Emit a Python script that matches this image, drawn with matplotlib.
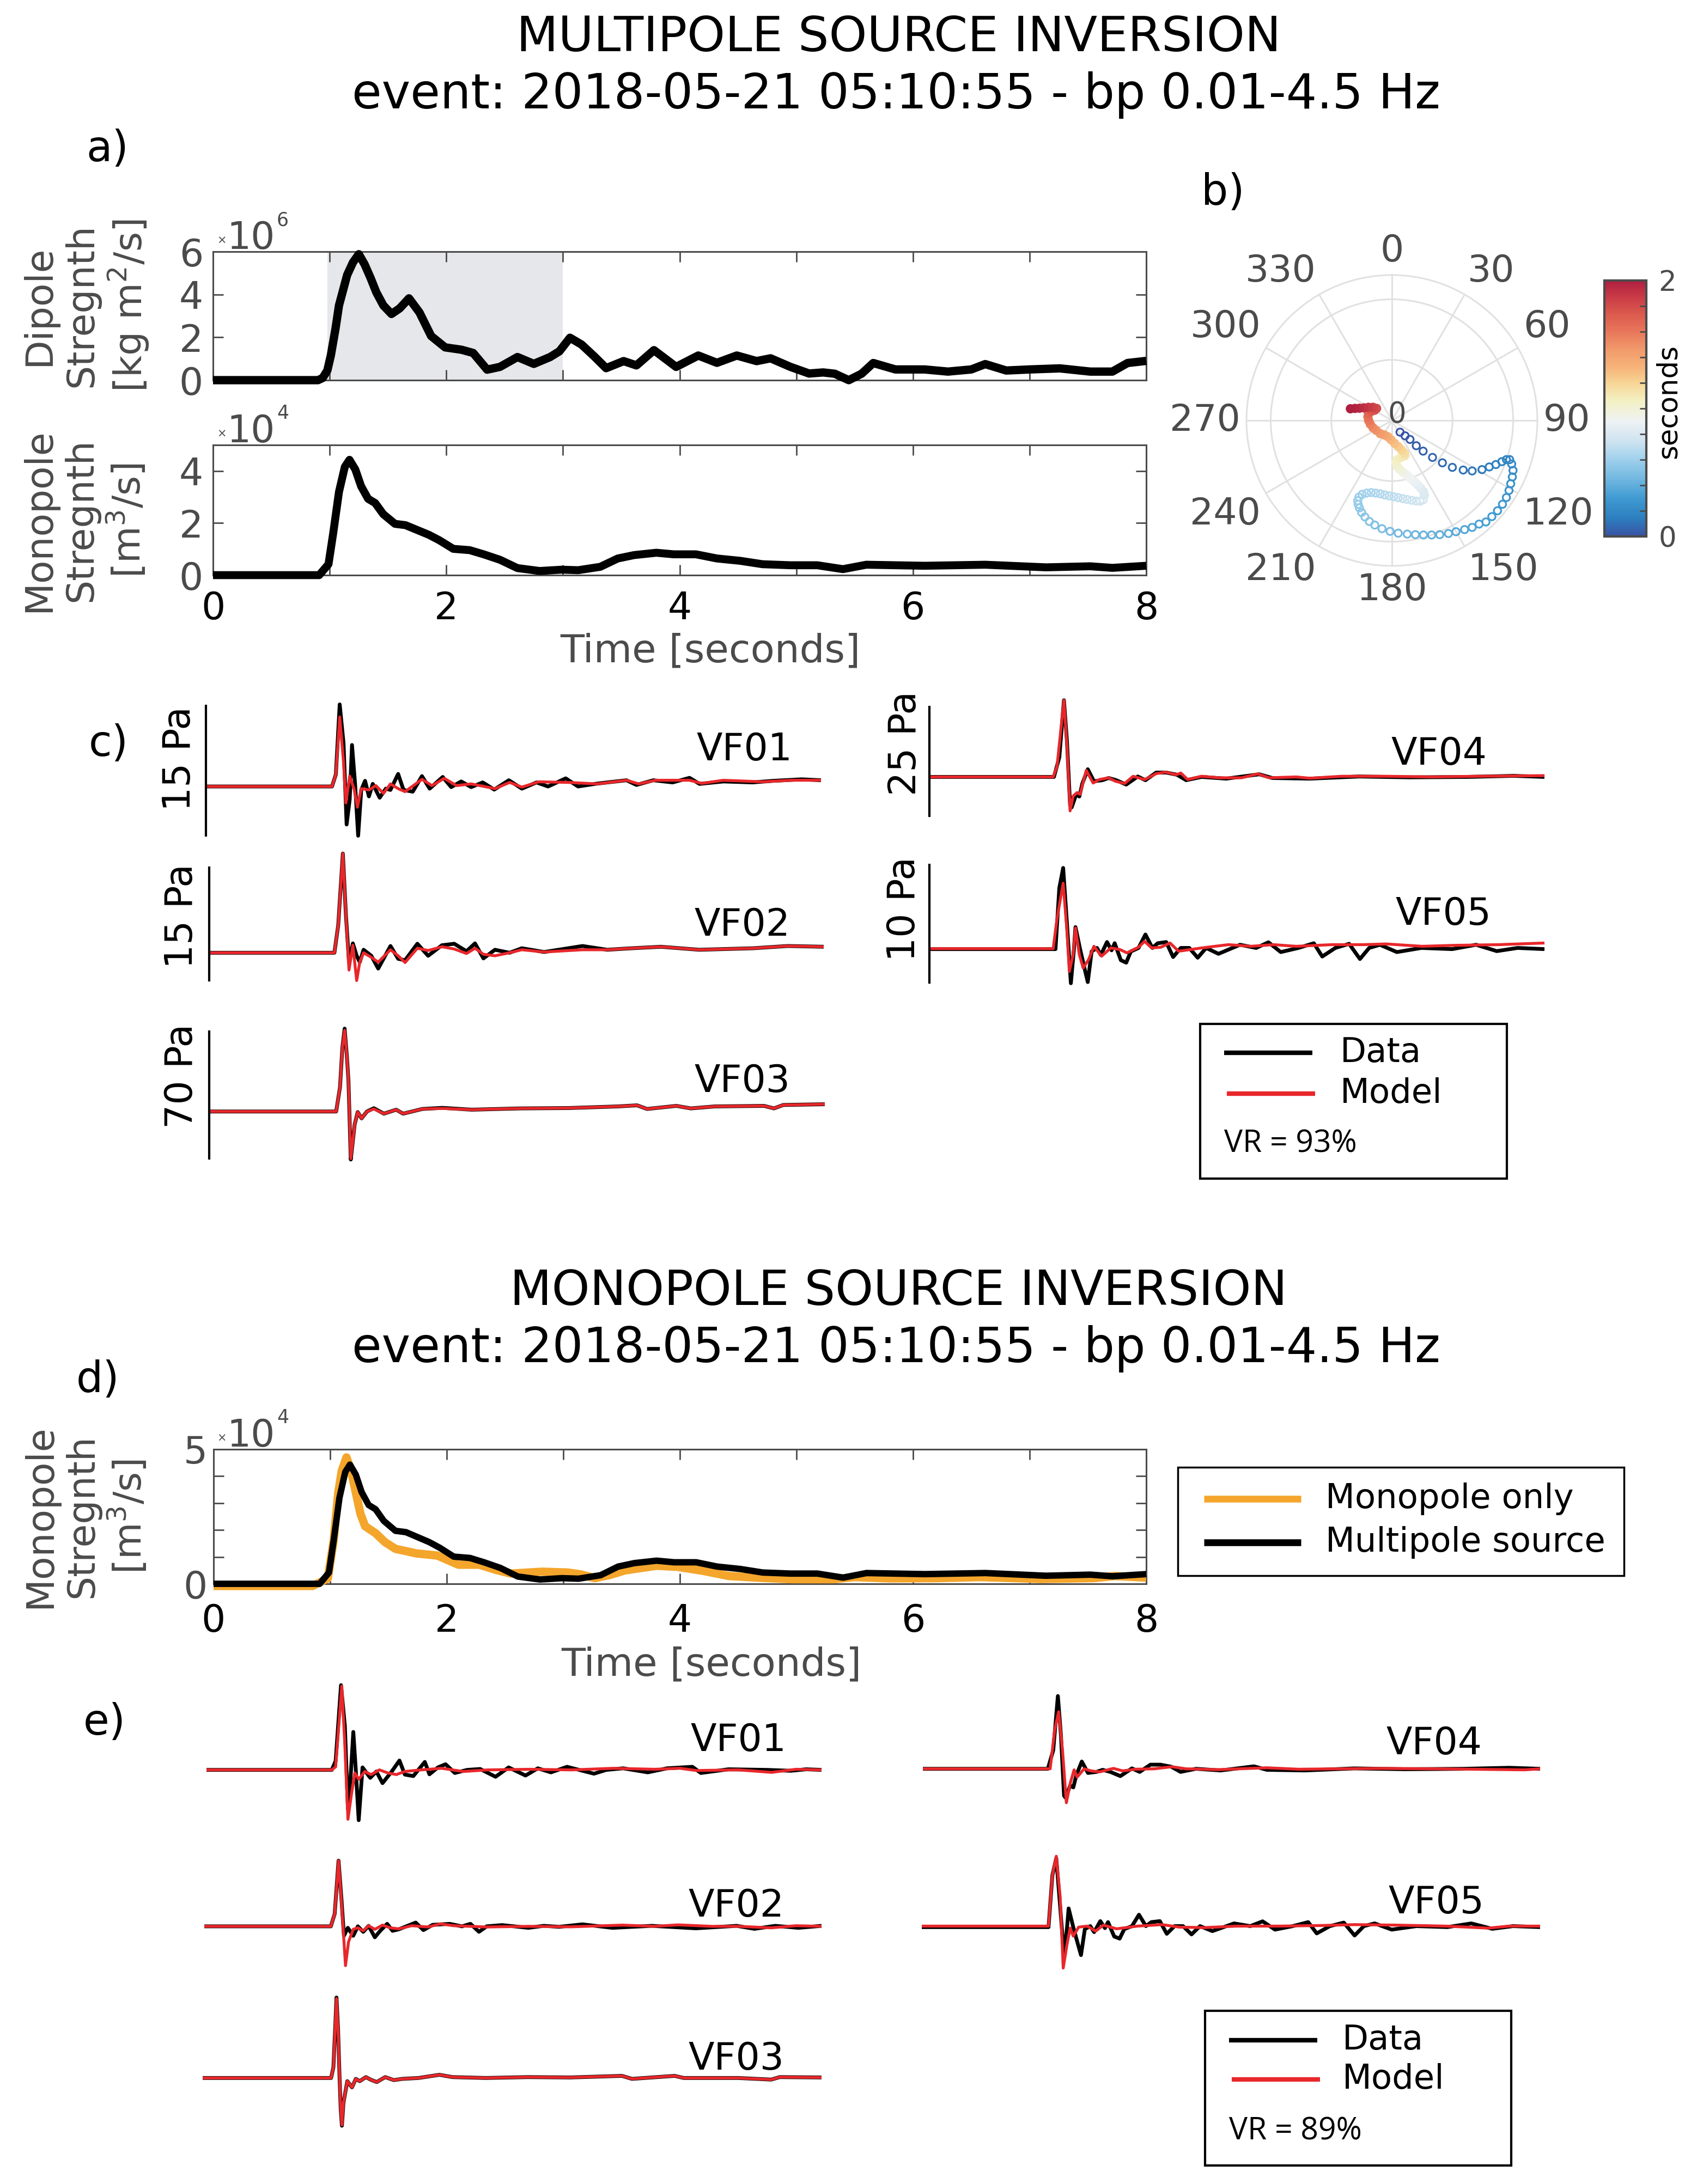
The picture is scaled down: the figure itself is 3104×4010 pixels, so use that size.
import numpy as np
import matplotlib
matplotlib.use("Agg")
import matplotlib.pyplot as plt
from matplotlib.colors import LinearSegmentedColormap, Normalize
from matplotlib.cm import ScalarMappable
from matplotlib.patches import Rectangle

plt.rcParams['font.family'] = ['DejaVu Sans']
plt.rcParams['mathtext.fontset'] = 'dejavusans'

W, H, DPI = 3104, 4010, 100
GRAY = '#4b4b4b'
RED = '#e8272b'
ORANGE = '#f4a52b'
SHADE = '#e6e7ea'
GRID = '#e1e1e1'

# ---------------- source time functions (t [s], value) ----------------
DIPOLE_WINDOW = (0.98, 3.0)
DIPOLE = [(0, 0), (0.90, 0), (0.94, 0.1), (0.98, 0.45), (1.01, 1.15), (1.05, 2.4), (1.08, 3.49),
          (1.12, 4.3), (1.15, 4.91), (1.20, 5.5), (1.25, 5.88), (1.30, 5.4), (1.35, 4.78), (1.40, 4.1),
          (1.46, 3.49), (1.53, 3.09), (1.60, 3.35), (1.68, 3.82), (1.77, 3.16), (1.87, 2.06),
          (1.99, 1.53), (2.13, 1.42), (2.23, 1.27), (2.35, 0.49), (2.46, 0.62), (2.61, 1.08),
          (2.75, 0.76), (2.89, 1.08), (2.97, 1.35), (3.06, 1.98), (3.16, 1.66), (3.27, 1.1),
          (3.37, 0.56), (3.52, 0.89), (3.63, 0.69), (3.78, 1.40), (3.97, 0.62), (4.16, 1.15),
          (4.32, 0.81), (4.49, 1.15), (4.66, 0.89), (4.78, 1.02), (4.95, 0.62), (5.11, 0.31),
          (5.23, 0.36), (5.33, 0.3), (5.45, 0.0), (5.56, 0.3), (5.66, 0.8), (5.85, 0.5), (6.10, 0.5),
          (6.30, 0.4), (6.50, 0.5), (6.62, 0.75), (6.80, 0.45), (7.00, 0.5), (7.26, 0.55),
          (7.52, 0.4), (7.71, 0.4), (7.84, 0.8), (8.00, 0.9)]

MONOPOLE = [(0, 0), (0.91, 0), (0.99, 0.42), (1.03, 1.6), (1.08, 3.2), (1.13, 4.16), (1.17, 4.43),
            (1.22, 4.06), (1.27, 3.41), (1.33, 2.93), (1.39, 2.77), (1.46, 2.34), (1.56, 1.97),
            (1.65, 1.92), (1.85, 1.55), (1.94, 1.34), (2.06, 1.01), (2.20, 0.96), (2.32, 0.8),
            (2.46, 0.59), (2.61, 0.27), (2.80, 0.16), (2.99, 0.21), (3.13, 0.19), (3.32, 0.32),
            (3.47, 0.64), (3.61, 0.77), (3.80, 0.86), (3.95, 0.8), (4.14, 0.8), (4.32, 0.64),
            (4.52, 0.55), (4.71, 0.42), (4.95, 0.38), (5.18, 0.38), (5.40, 0.23), (5.60, 0.4),
            (6.10, 0.36), (6.62, 0.4), (7.14, 0.3), (7.52, 0.34), (7.71, 0.28), (8.0, 0.36)]

MONOPOLE_ONLY = [(0, -0.08), (0.85, -0.08), (0.98, 0.2), (1.03, 1.6), (1.07, 3.4), (1.10, 4.2),
                 (1.14, 4.7), (1.18, 4.2), (1.22, 3.4), (1.26, 2.6), (1.30, 2.14), (1.39, 1.88),
                 (1.47, 1.55), (1.56, 1.3), (1.74, 1.13), (1.92, 1.05), (2.10, 0.71), (2.28, 0.71),
                 (2.42, 0.52), (2.55, 0.38), (2.70, 0.42), (2.82, 0.45), (3.04, 0.42), (3.15, 0.35),
                 (3.27, 0.21), (3.40, 0.33), (3.53, 0.5), (3.80, 0.67), (3.98, 0.63), (4.20, 0.48),
                 (4.42, 0.29), (4.70, 0.22), (4.96, 0.17), (5.32, 0.17), (5.50, 0.25), (5.80, 0.2),
                 (6.21, 0.21), (6.57, 0.25), (7.10, 0.18), (7.55, 0.21), (7.73, 0.29), (8.00, 0.23)]

# ---------------- dipole direction path (east, north components) ----------------
ARC_EAST = [0.134, 0.217, 0.298, 0.402, 0.515, 0.670, 0.833, 0.997, 1.176, 1.324,
            1.486, 1.606, 1.715, 1.813, 1.889, 1.943, 1.976, 1.998, 1.987, 1.960, 1.932, 1.889,
            1.824, 1.742, 1.649, 1.551, 1.438, 1.324, 1.199, 1.057, 0.932, 0.789, 0.655, 0.521,
            0.387, 0.253, 0.104, -0.030, -0.164, -0.283, -0.372, -0.446, -0.500, -0.536, -0.557,
            -0.565, -0.545, -0.491, -0.417, -0.342, -0.268, -0.193, -0.119, -0.045, 0.030, 0.104,
            0.179, 0.253, 0.327, 0.402, 0.467, 0.515]
ARC_NORTH = [-0.193, -0.253, -0.313, -0.417, -0.506, -0.610, -0.699, -0.774, -0.818, -0.833,
             -0.811, -0.767, -0.728, -0.680, -0.646, -0.646, -0.718, -0.825, -0.932, -1.044,
             -1.155, -1.272, -1.383, -1.490, -1.587, -1.675, -1.710, -1.765, -1.801, -1.836,
             -1.866, -1.884, -1.890, -1.890, -1.884, -1.875, -1.860, -1.830, -1.786, -1.726,
             -1.667, -1.592, -1.518, -1.443, -1.384, -1.324, -1.265, -1.220, -1.199, -1.190,
             -1.199, -1.211, -1.229, -1.244, -1.259, -1.274, -1.289, -1.304, -1.318, -1.330,
             -1.333, -1.310]
ARC_T_END = 0.78
BAND_EAST = [0.536, 0.521, 0.476, 0.426, 0.372, 0.313, 0.253, 0.193, 0.134, 0.089, 0.068, 0.089,
             0.149, 0.217, 0.208, 0.158, 0.104, 0.045, -0.015, -0.068, -0.128, -0.193, -0.259,
             -0.313, -0.357, -0.384, -0.396, -0.387, -0.342, -0.283, -0.253, -0.313, -0.387,
             -0.461, -0.536, -0.610, -0.685]
BAND_NORTH = [-1.235, -1.176, -1.116, -1.063, -1.012, -0.961, -0.908, -0.863, -0.813, -0.759,
              -0.699, -0.646, -0.610, -0.580, -0.536, -0.485, -0.432, -0.378, -0.318, -0.268,
              -0.238, -0.217, -0.164, -0.119, -0.060, 0.000, 0.060, 0.119, 0.149, 0.170, 0.199,
              0.217, 0.217, 0.208, 0.202, 0.199, 0.193]
BAND_T = [0.80, 0.82, 0.84, 0.86, 0.88, 0.90, 0.92, 0.94, 0.97, 1.00, 1.03, 1.06, 1.09, 1.12,
          1.16, 1.20, 1.24, 1.28, 1.32, 1.36, 1.40, 1.44, 1.48, 1.52, 1.56, 1.60, 1.64, 1.68,
          1.72, 1.76, 1.80, 1.84, 1.88, 1.92, 1.95, 1.98, 2.00]
POLAR_ANGLES = list(range(0, 360, 30))

# ---------------- waveforms, multipole inversion (t [s], Pa) ----------------
VF01_DATA_C = [(0, 0), (1.64, 0), (1.69, 1.4), (1.74, 9.5), (1.79, 5.0), (1.83, -4.4), (1.87, -1.5),
               (1.90, 4.8), (1.94, 0.3), (1.98, -5.7), (2.02, -0.4), (2.07, 0.65), (2.12, -1.15),
               (2.17, 0.3), (2.26, -1.3), (2.34, -0.25), (2.40, -0.4), (2.50, 1.45), (2.57, -0.4),
               (2.69, -0.6), (2.81, 1.2), (2.91, -0.25), (3.08, 1.1), (3.19, -0.07), (3.32, 0.58),
               (3.45, -0.07), (3.60, 0.47), (3.75, -0.36), (3.94, 0.72), (4.11, -0.25), (4.30, 0.47),
               (4.45, 0.0), (4.68, 0.94), (4.84, 0.0), (5.06, 0.3), (5.22, 0.47), (5.47, 0.72),
               (5.60, 0.18), (5.82, 0.72), (6.07, 0.47), (6.29, 1.0), (6.42, 0.3), (6.73, 0.58),
               (7.11, 0.47), (7.37, 0.65), (7.75, 0.83), (8.0, 0.72)]
VF01_MODEL_C = [(0, 0), (1.64, 0), (1.69, 1.4), (1.74, 8.05), (1.79, 2.8), (1.82, -1.9), (1.87, 1.2),
                (1.93, -0.4), (1.97, -2.4), (2.02, -0.25), (2.12, -0.4), (2.21, 0.1), (2.31, -0.8),
                (2.40, 0.3), (2.50, -0.25), (2.59, -0.6), (2.81, 0.83), (2.94, 0.1), (3.10, 0.94),
                (3.26, 0.1), (3.45, 0.3), (3.76, -0.25), (3.95, 0.47), (4.11, -0.07), (4.33, 0.54),
                (4.71, 0.47), (5.09, 0.3), (5.47, 0.72), (5.63, 0.3), (5.85, 0.72), (6.29, 0.72),
                (6.45, 0.36), (6.73, 0.72), (7.24, 0.54), (7.62, 0.72), (8.0, 0.72)]
VF02_DATA_C = [(0, 0), (1.63, 0), (1.68, 3.7), (1.74, 13.2), (1.78, 5.0), (1.82, -1.25), (1.87, 1.25),
               (1.92, -0.4), (1.96, -1.25), (2.01, 0.4), (2.11, -0.4), (2.20, -2.1), (2.36, 0.9),
               (2.46, -0.8), (2.55, -1.0), (2.71, 1.2), (2.85, -0.4), (3.03, 1.0), (3.19, 1.2),
               (3.35, 0.2), (3.46, 1.25), (3.57, -0.75), (3.72, 0.4), (3.91, 0.0), (4.07, 0.6),
               (4.36, 0.1), (4.86, 0.9), (5.18, 0.4), (5.50, 0.6), (5.88, 0.8), (6.38, 0.4),
               (7.08, 0.6), (7.53, 0.9), (8.0, 0.8)]
VF02_MODEL_C = [(0, 0), (1.63, 0), (1.68, 3.7), (1.74, 13.2), (1.78, 5.0), (1.82, -2.3), (1.87, 1.0),
                (1.92, -3.7), (1.96, -1.25), (2.01, 0.0), (2.11, -0.6), (2.20, -1.25), (2.36, 0.4),
                (2.46, -0.4), (2.55, -1.3), (2.71, 0.6), (2.85, 0.3), (3.03, 0.8), (3.19, 0.5),
                (3.35, -0.1), (3.46, 0.6), (3.57, -0.2), (3.72, -0.4), (3.91, 0.0), (4.07, 0.4),
                (4.36, 0.1), (4.86, 0.4), (5.18, 0.4), (5.50, 0.6), (5.88, 0.8), (6.38, 0.4),
                (7.08, 0.6), (7.53, 0.9), (8.0, 0.8)]
VF03_DATA_C = [(0, 0), (1.65, 0), (1.70, 13.4), (1.73, 35), (1.76, 45.7), (1.79, 30), (1.81, 16.9),
               (1.84, -26.5), (1.87, -15), (1.89, -7.2), (1.93, -0.3), (1.98, -3.8), (2.05, 0),
               (2.14, 1.8), (2.27, -1.2), (2.43, 1.0), (2.52, -1.2), (2.77, 1.4), (3.03, 2.0),
               (3.41, 1.0), (4.04, 1.7), (4.67, 1.9), (5.31, 2.8), (5.56, 3.4), (5.69, 1.4),
               (6.07, 3.1), (6.26, 1.7), (6.57, 2.8), (7.21, 3.1), (7.34, 1.7), (7.46, 3.6), (8.0, 4.0)]
VF03_MODEL_C = [(0, 0), (1.65, 0), (1.70, 13.4), (1.73, 35), (1.76, 44.8), (1.79, 30), (1.81, 16.9),
                (1.84, -26), (1.87, -15), (1.89, -7.2), (1.93, -0.3), (1.98, -3.8), (2.05, 0),
                (2.14, 1.4), (2.27, -1.2), (2.43, 1.0), (2.52, -1.2), (2.77, 1.4), (3.03, 1.7),
                (3.41, 1.0), (4.04, 1.7), (4.67, 1.9), (5.31, 2.8), (5.56, 3.4), (5.69, 1.4),
                (6.07, 3.1), (6.26, 1.7), (6.57, 2.8), (7.21, 3.1), (7.34, 1.7), (7.46, 3.6), (8.0, 4.0)]
VF04_DATA = [(0, 0), (1.62, 0), (1.69, 4.5), (1.75, 17.6), (1.79, 8.0), (1.83, -6.5), (1.85, -7.0),
             (1.91, -4.0), (1.95, -4.5), (1.99, -1.5), (2.06, 1.76), (2.14, -1.0), (2.25, -0.75),
             (2.33, -0.25), (2.43, -0.75), (2.56, -1.76), (2.71, 0.1), (2.81, -0.75), (2.95, 1.0),
             (3.08, 1.0), (3.22, 0.5), (3.34, -0.75), (3.54, 0), (3.86, -0.4), (4.29, 0.6),
             (4.46, -0.25), (4.95, -0.4), (5.59, 0.1), (6.24, -0.1), (7.0, 0), (7.6, 0.25), (8.0, 0)]
VF04_MODEL_C = [(0, 0), (1.61, 0), (1.66, 2.4), (1.75, 17.6), (1.79, 7.0), (1.83, -7.8), (1.87, -4.4),
                (1.92, -3.6), (1.96, -4.0), (2.04, 1.5), (2.13, -1.4), (2.21, -0.6), (2.33, -0.2),
                (2.42, -1.0), (2.54, -1.5), (2.65, 0.15), (2.80, -0.6), (2.95, 0.75), (3.07, 1.1),
                (3.21, 0.5), (3.27, 0.9), (3.36, -0.6), (3.54, 0.15), (3.77, -0.2), (4.06, -0.2),
                (4.27, 0.7), (4.42, -0.2), (4.77, 0), (4.95, -0.3), (5.36, 0.15), (5.94, 0.15),
                (6.53, 0), (7.12, 0.15), (8.0, 0.3)]
VF05_DATA = [(0, -0.1), (1.64, -0.1), (1.69, 5.1), (1.74, 6.8), (1.79, 2.0), (1.84, -3.0), (1.88, -0.1),
             (1.90, 1.77), (1.96, -0.1), (2.02, -1.8), (2.06, -2.9), (2.11, -0.3), (2.18, 0),
             (2.23, -0.6), (2.31, 0.5), (2.37, -0.2), (2.41, 0.4), (2.49, -1.04), (2.56, -1.25),
             (2.62, -0.3), (2.72, 0), (2.81, 1.14), (2.90, 0), (2.97, 0.4), (3.08, 0.5), (3.17, -0.77),
             (3.27, 0), (3.38, 0), (3.49, -0.83), (3.60, 0), (3.76, -0.5), (4.04, 0.27), (4.25, 0),
             (4.41, 0.48), (4.57, -0.35), (4.80, 0), (5.00, 0.4), (5.11, -0.73), (5.28, 0),
             (5.46, 0.35), (5.60, -0.94), (5.72, 0), (5.86, 0.27), (6.08, -0.35), (6.40, 0),
             (6.80, -0.1), (7.11, 0.27), (7.38, -0.27), (7.65, 0), (8.0, -0.1)]
VF05_MODEL_C = [(0, -0.06), (1.61, -0.06), (1.66, 2.5), (1.74, 5.5), (1.79, 1.4), (1.82, -2.0),
                (1.87, -0.56), (1.90, 1.7), (1.95, -0.56), (2.00, -1.7), (2.07, -1.0), (2.14, 0.14),
                (2.24, -0.7), (2.36, 0), (2.48, -0.14), (2.57, -0.42), (2.72, 0.06), (2.80, 0.56),
                (2.89, 0), (3.01, 0.06), (3.13, 0.42), (3.24, -0.28), (3.54, 0), (3.89, 0.28),
                (4.18, 0.14), (4.48, 0.28), (4.77, 0.14), (5.24, 0.28), (5.65, 0.28), (5.94, 0.34),
                (6.41, 0.14), (6.82, 0.22), (7.41, 0.28), (8.0, 0.42)]

# ---------------- waveforms, monopole inversion ----------------
VF01_DATA_E = [(0, 0), (1.63, 0), (1.68, 1.0), (1.75, 9.6), (1.80, 5.0), (1.84, -4.4), (1.87, -1.5),
               (1.91, 4.3), (1.94, 0.3), (1.98, -5.7), (2.03, 0.28), (2.13, -0.9), (2.21, -0.18),
               (2.29, -1.5), (2.41, -0.18), (2.51, 1.06), (2.58, -0.53), (2.69, -0.7), (2.84, 0.9),
               (2.90, -0.5), (3.01, 0.28), (3.11, 0.64), (3.23, -0.35), (3.39, 0), (3.56, 0.1),
               (3.76, -0.78), (3.93, 0.28), (4.15, -0.64), (4.31, 0.18), (4.48, -0.28), (4.69, 0.35),
               (5.04, -0.43), (5.20, 0), (5.42, 0.18), (5.74, -0.28), (5.99, 0.18), (6.32, 0.35),
               (6.43, -0.35), (6.79, 0.07), (7.29, 0), (7.60, -0.1), (7.80, 0.07), (8.0, 0)]
VF01_MODEL_E = [(0, 0), (1.63, 0), (1.68, 0.35), (1.76, 9.5), (1.80, 2.8), (1.84, -5.6), (1.89, -2.5),
                (1.93, -0.35), (1.98, -1.06), (2.06, -0.18), (2.14, -0.53), (2.25, 0), (2.36, -0.35),
                (2.47, -0.53), (2.58, -0.18), (2.79, 0), (3.06, 0.18), (3.34, -0.18), (3.66, 0),
                (4.20, 0.07), (4.75, 0), (5.29, 0.18), (5.83, 0.07), (6.16, 0.18), (6.37, -0.07),
                (6.92, 0), (7.35, -0.28), (7.67, 0.07), (8.0, 0)]
VF02_DATA_E = [(0, 0), (1.64, 0), (1.69, 2.5), (1.74, 13.2), (1.78, 5.0), (1.81, -1.9), (1.86, -0.3),
               (1.93, -1.9), (1.99, 0), (2.06, -1.1), (2.13, 0.1), (2.21, -2.2), (2.28, -0.9),
               (2.37, 0.5), (2.44, -0.9), (2.52, -0.6), (2.74, 0.75), (2.84, -0.75), (2.96, 0.3),
               (3.18, 0.5), (3.34, 0), (3.45, 0.5), (3.56, -1.1), (3.66, 0), (3.86, 0.25), (4.20, -0.3),
               (4.40, 0.1), (4.60, -0.1), (4.90, 0.4), (5.29, -0.3), (5.80, 0.1), (6.37, -0.4),
               (6.90, 0.1), (7.13, -0.5), (7.40, 0.1), (7.70, -0.3), (8.0, 0.1)]
VF02_MODEL_E = [(0, 0), (1.64, 0), (1.69, 2.5), (1.74, 13.2), (1.78, 4.4), (1.83, -7.9), (1.87, -3.1),
                (1.93, -0.6), (1.99, -0.3), (2.06, -0.9), (2.13, 0.13), (2.21, -0.6), (2.31, 0.25),
                (2.41, -0.3), (2.52, -0.5), (2.69, 0.13), (2.90, -0.13), (3.06, 0.5), (3.23, 0.13),
                (3.66, -0.13), (4.20, 0), (4.75, -0.1), (5.42, 0.25), (5.83, 0), (6.14, 0.3),
                (6.58, 0), (6.92, 0), (7.35, -0.3), (7.67, 0.13), (8.0, 0)]
VF03_DATA_E = [(0, 0), (1.66, 0), (1.69, 6), (1.715, 30), (1.73, 45.5), (1.75, 28), (1.77, 0),
               (1.785, -18), (1.80, -27), (1.82, -14), (1.87, -1.8), (1.93, -5.3), (1.98, -0.5),
               (2.03, -1.8), (2.11, 0.5), (2.17, -0.9), (2.25, -2.3), (2.36, 0.5), (2.47, -1.2),
               (2.58, -0.5), (2.79, 0), (3.06, 1.8), (3.23, 0.5), (3.66, 0), (4.20, 0.5), (4.75, 0.3),
               (5.42, 1.2), (5.55, -0.5), (6.10, 1.2), (6.22, 0), (6.92, 0), (7.35, -0.9), (7.46, 0.5),
               (8.0, 0.3)]
VF03_MODEL_E = [(0, 0), (1.66, 0), (1.69, 6), (1.715, 30), (1.73, 44.9), (1.75, 28), (1.77, 0),
                (1.785, -18), (1.80, -26.6), (1.82, -14), (1.87, -1.8), (1.93, -5.3), (1.98, -0.5),
                (2.03, -1.8), (2.11, 0.5), (2.17, -0.9), (2.25, -2.3), (2.36, 0.5), (2.47, -1.2),
                (2.58, -0.5), (2.79, 0), (3.06, 1.8), (3.23, 0.5), (3.66, 0), (4.20, 0.5), (4.75, 0.3),
                (5.42, 1.2), (5.55, -0.5), (6.10, 1.2), (6.22, 0), (6.92, 0), (7.35, -0.9), (7.46, 0.5),
                (8.0, 0.3)]
VF04_MODEL_E = [(0, 0), (1.65, 0), (1.71, 9.6), (1.76, 13.8), (1.81, 4.5), (1.86, -8.2), (1.91, -3.5),
                (1.96, -0.25), (2.00, -2.0), (2.09, 0), (2.18, -0.5), (2.29, -0.75), (2.47, 0.1),
                (2.59, -0.5), (2.76, -0.1), (3.00, 0), (3.23, 0.5), (3.41, 0), (3.82, -0.2),
                (4.46, 0.25), (4.87, -0.1), (5.93, 0.1), (6.63, 0), (7.80, -0.25), (8.0, 0)]
VF05_MODEL_E = [(0, 0), (1.64, 0), (1.69, 5.1), (1.74, 7.0), (1.79, 3.0), (1.83, -4.2), (1.88, -1.8),
                (1.92, -0.2), (1.96, -1.0), (2.03, -0.1), (2.14, 0), (2.25, -0.5), (2.35, 0.1),
                (2.52, -0.27), (2.79, 0), (3.11, 0.15), (3.33, -0.1), (3.65, -0.15), (4.08, 0),
                (4.62, 0), (5.16, 0.06), (5.60, 0.15), (6.14, 0.1), (6.78, 0), (7.33, -0.2),
                (7.60, 0), (8.0, 0)]

VR_MULTIPOLE = 93
VR_MONOPOLE = 89


def rect(x0, y0, x1, y1):
    return [x0 / W, 1 - y1 / H, (x1 - x0) / W, (y1 - y0) / H]


def xy(series):
    arr = np.array(series, dtype=float)
    return arr[:, 0], arr[:, 1]


fig = plt.figure(figsize=(W / DPI, H / DPI), dpi=DPI)
ov = fig.add_axes([0, 0, 1, 1], zorder=10)
ov.set_xlim(0, W)
ov.set_ylim(H, 0)
ov.axis('off')
ov.patch.set_alpha(0)

even = ['0', '', '2', '', '4', '', '6', '', '8']


def box_style(ax, xlabels, xpad, ypad):
    ax.set_xlim(0, 8)
    ax.set_xticks(range(9))
    ax.set_xticklabels(xlabels)
    for sp in ax.spines.values():
        sp.set_color(GRAY)
        sp.set_linewidth(2.2)
    ax.tick_params(direction='in', length=14, width=2, color=GRAY, top=True, right=True,
                   labelsize=50)
    ax.tick_params(axis='x', labelcolor='black', pad=xpad)
    ax.tick_params(axis='y', labelcolor=GRAY, pad=ypad)


def offset_text(x, top, power):
    ov.text(x, top - 14, '×', fontsize=15, color=GRAY, ha='left', va='baseline')
    ov.text(x + 18, top - 5, '10', fontsize=50, color=GRAY, ha='left', va='baseline')
    ov.text(x + 110, top - 48, power, fontsize=25, color=GRAY, ha='left', va='baseline')


# ---------------- a) ----------------
ax_dip = fig.add_axes(rect(391, 462, 2104, 698))
ax_dip.axvspan(*DIPOLE_WINDOW, color=SHADE, lw=0, zorder=0)
t, v = xy(DIPOLE)
ax_dip.plot(t, v, color='black', lw=11, clip_on=False, zorder=3, solid_capstyle='butt')
ax_dip.set_ylim(0, 6)
ax_dip.set_yticks([0, 2, 4, 6])
box_style(ax_dip, [''] * 9, 20, 13)
offset_text(398, 462, '6')

ax_mono = fig.add_axes(rect(391, 817, 2104, 1056))
t, v = xy(MONOPOLE)
ax_mono.plot(t, v, color='black', lw=10.5, clip_on=False, zorder=3, solid_capstyle='butt')
ax_mono.set_ylim(0, 5)
ax_mono.set_yticks([0, 2, 4])
box_style(ax_mono, even, 20, 13)
offset_text(398, 817, '4')

ov.text(158, 561, 'Dipole\nStregnth\n[kg m$^2$/s]', rotation=90, ha='center', va='center',
        multialignment='center', fontsize=50, color=GRAY, linespacing=1.2)
ov.text(155, 955, 'Monopole\nStregnth\n[m$^3$/s]', rotation=90, ha='center', va='center',
        multialignment='center', fontsize=50, color=GRAY, linespacing=1.2)
ov.text(1304, 1196, 'Time [seconds]', ha='center', va='center', fontsize=52, color=GRAY)

# ---------------- b) ----------------
cmap = LinearSegmentedColormap.from_list('rdylbu_like', [
    (0.00, '#3953a3'), (0.07, '#2c7fbf'), (0.15, '#409bd2'), (0.22, '#6fb6e0'),
    (0.30, '#9fd0ec'), (0.37, '#cde3f0'), (0.45, '#eef2f4'), (0.53, '#f3f1c3'),
    (0.60, '#f7d596'), (0.66, '#f6b47a'), (0.73, '#f19a6b'), (0.80, '#e9775b'),
    (0.88, '#d9554c'), (0.94, '#c83a46'), (1.00, '#b01f40')])
norm = Normalize(0, 2)

axp = fig.add_axes(rect(2288, 505, 2822, 1039), projection='polar')
axp.set_theta_zero_location('N')
axp.set_theta_direction(-1)
axp.set_ylim(0, 2.4)
axp.set_rticks([1, 2])
axp.set_yticklabels([])
axp.set_thetagrids(POLAR_ANGLES, labels=[''] * len(POLAR_ANGLES))
axp.grid(color=GRID, lw=2.2)
axp.spines['polar'].set_color(GRID)
axp.spines['polar'].set_linewidth(2.2)
axp.tick_params(length=0)

ae, an = np.array(ARC_EAST), np.array(ARC_NORTH)
arc_t = np.linspace(0, ARC_T_END, len(ae))
axp.scatter(np.arctan2(ae, an), np.hypot(ae, an), s=92, facecolors='none',
            edgecolors=cmap(norm(arc_t)), linewidths=2.3, zorder=3)
be, bn = np.array(BAND_EAST), np.array(BAND_NORTH)
band_c = cmap(norm(np.array(BAND_T)))
axp.scatter(np.arctan2(be, bn), np.hypot(be, bn), s=100, facecolors=band_c,
            edgecolors=band_c, linewidths=2.3, zorder=4)

for ang in POLAR_ANGLES:
    a = np.deg2rad(ang)
    s, c = np.sin(a), np.cos(a)
    ha = 'left' if s > 0.1 else ('right' if s < -0.1 else 'center')
    va = 'bottom' if c > 0.1 else ('top' if c < -0.1 else 'center')
    axp.text(a, 2.5, str(ang), ha=ha, va=va, fontsize=49, color=GRAY)
ov.text(2564, 761, '0', ha='center', va='center', fontsize=38, color=GRAY)

cax = fig.add_axes(rect(2945, 515, 3022, 985))
cb = fig.colorbar(ScalarMappable(norm=norm, cmap=cmap), cax=cax)
cb.set_ticks([i / 5 for i in range(11)])
cb.set_ticklabels(['0'] + [''] * 9 + ['2'])
cb.outline.set_edgecolor(GRAY)
cb.outline.set_linewidth(3)
cax.tick_params(direction='in', length=9, width=2, color=GRAY, labelcolor=GRAY,
                labelsize=37, pad=16, right=True, left=False)
ov.text(3063, 737, 'seconds', rotation=90, ha='center', va='center', fontsize=37, color='black')

# ---------------- c) and e) ----------------
def trace_axes(box, ylim, bar):
    ax = fig.add_axes(rect(*box))
    ax.set_xlim(0, 8)
    ax.set_ylim(*ylim)
    ax.set_xticks([])
    ax.set_yticks([])
    for side in ('top', 'right', 'bottom'):
        ax.spines[side].set_visible(False)
    if bar:
        ax.spines['left'].set_color('black')
        ax.spines['left'].set_linewidth(3)
    else:
        ax.spines['left'].set_visible(False)
    ax.patch.set_alpha(0)
    return ax


def draw_trace(ax, data, model):
    t, v = xy(data)
    ax.plot(t, v, color='black', lw=5, clip_on=False, solid_capstyle='butt')
    t, v = xy(model)
    ax.plot(t, v, color=RED, lw=3.8, clip_on=False, solid_capstyle='butt')


c_panels = [
    ('VF01', VF01_DATA_C, VF01_MODEL_C, (378, 1296, 1507, 1534), (-5.67, 9.33), '15 Pa', (329, 1393), (1366, 1396)),
    ('VF02', VF02_DATA_C, VF02_MODEL_C, (384, 1593, 1512, 1800), (-3.67, 11.33), '15 Pa', (333, 1682), (1362, 1718)),
    ('VF03', VF03_DATA_C, VF03_MODEL_C, (384, 1894, 1514, 2127), (-25.9, 44.1), '70 Pa', (333, 1976), (1362, 2005)),
    ('VF04', VF04_DATA, VF04_MODEL_C, (1706, 1298, 2835, 1498), (-8.94, 16.06), '25 Pa', (1662, 1365), (2641, 1404)),
    ('VF05', VF05_DATA, VF05_MODEL_C, (1706, 1588, 2835, 1804), (-2.94, 7.06), '10 Pa', (1660, 1669), (2649, 1698)),
]
for name, data, model, box, ylim, scale, spos, npos in c_panels:
    ax = trace_axes(box, ylim, True)
    draw_trace(ax, data, model)
    ov.text(*spos, scale, rotation=90, ha='center', va='center', fontsize=50)
    ov.text(npos[0], npos[1], name, ha='center', va='baseline', fontsize=50)

e_panels = [
    ('VF01', VF01_DATA_E, VF01_MODEL_E, (379, 3099, 1508, 3342), (-5.7, 9.3), (1355, 3215)),
    ('VF02', VF02_DATA_E, VF02_MODEL_E, (375, 3409, 1508, 3610), (-8, 14), (1351, 3519)),
    ('VF03', VF03_DATA_E, VF03_MODEL_E, (372, 3666, 1508, 3903), (-27, 46), (1351, 3800)),
    ('VF04', VF04_DATA, VF04_MODEL_E, (1694, 3111, 2827, 3316), (-9, 18), (2632, 3221)),
    ('VF05', VF05_DATA, VF05_MODEL_E, (1692, 3399, 2827, 3619), (-4.5, 7.5), (2636, 3513)),
]
for name, data, model, box, ylim, npos in e_panels:
    ax = trace_axes(box, ylim, False)
    draw_trace(ax, data, model)
    ov.text(npos[0], npos[1], name, ha='center', va='baseline', fontsize=50)


def fit_legend(x0, y0, x1, y1, y_data, y_model, xl, xt, y_vr, vr):
    ov.add_patch(Rectangle((x0, y0), x1 - x0, y1 - y0, fill=False, ec='black', lw=3))
    ov.plot([xl, xl + 162], [y_data, y_data], color='black', lw=6, solid_capstyle='butt')
    ov.plot([xl + 5, xl + 167], [y_model, y_model], color=RED, lw=6, solid_capstyle='butt')
    ov.text(xt, y_data, 'Data', ha='left', va='center', fontsize=45)
    ov.text(xt, y_model, 'Model', ha='left', va='center', fontsize=45)
    ov.text(xl, y_vr, f'VR = {vr}%', ha='left', va='center', fontsize=41,
            family=['Open Sans', 'DejaVu Sans'])


fit_legend(2203, 1880, 2766, 2164, 1933, 2008, 2247, 2460, 2101, VR_MULTIPOLE)
fit_legend(2212, 3692, 2774, 3976, 3746, 3818, 2256, 2464, 3914, VR_MONOPOLE)

# ---------------- d) ----------------
ax_d = fig.add_axes(rect(392, 2661, 2104, 2908))
t, v = xy(MONOPOLE_ONLY)
ax_d.plot(t, v, color=ORANGE, lw=11, clip_on=False, zorder=3, solid_capstyle='butt',
          label='Monopole only')
t, v = xy(MONOPOLE)
ax_d.plot(t, v, color='black', lw=8.5, clip_on=False, zorder=3, solid_capstyle='butt',
          label='Multipole source')
ax_d.set_ylim(0, 5)
ax_d.set_yticks(range(6))
ax_d.set_yticklabels(['0', '', '', '', '', '5'])
box_style(ax_d, even, 25, 8)
offset_text(398, 2661, '4')
ov.text(157, 2784, 'Monopole\nStregnth\n[m$^3$/s]', rotation=90, ha='center', va='center',
        multialignment='center', fontsize=50, color=GRAY, linespacing=1.2)
ov.text(1306, 3057, 'Time [seconds]', ha='center', va='center', fontsize=52, color=GRAY)

ov.add_patch(Rectangle((2162, 2694), 819, 199, fill=False, ec='black', lw=2.5))
ov.plot([2210, 2388], [2752, 2752], color=ORANGE, lw=9, solid_capstyle='butt')
ov.plot([2210, 2388], [2832, 2832], color='black', lw=9, solid_capstyle='butt')
ov.text(2433, 2752, 'Monopole only', ha='left', va='center', fontsize=45)
ov.text(2433, 2832, 'Multipole source', ha='left', va='center', fontsize=45)

# ---------------- titles and panel letters ----------------
ov.text(1650, 94, 'MULTIPOLE SOURCE INVERSION', ha='center', va='baseline', fontsize=64)
ov.text(1645, 199, 'event: 2018-05-21 05:10:55 - bp 0.01-4.5 Hz', ha='center', va='baseline', fontsize=64)
ov.text(1650, 2396, 'MONOPOLE SOURCE INVERSION', ha='center', va='baseline', fontsize=64)
ov.text(1645, 2501, 'event: 2018-05-21 05:10:55 - bp 0.01-4.5 Hz', ha='center', va='baseline', fontsize=64)
for letter, x, y in [('a)', 158, 296), ('b)', 2205, 376), ('c)', 163, 1388),
                     ('d)', 140, 2556), ('e)', 153, 3185)]:
    ov.text(x, y, letter, ha='left', va='baseline', fontsize=56)

fig.savefig('out.png', dpi=DPI)
